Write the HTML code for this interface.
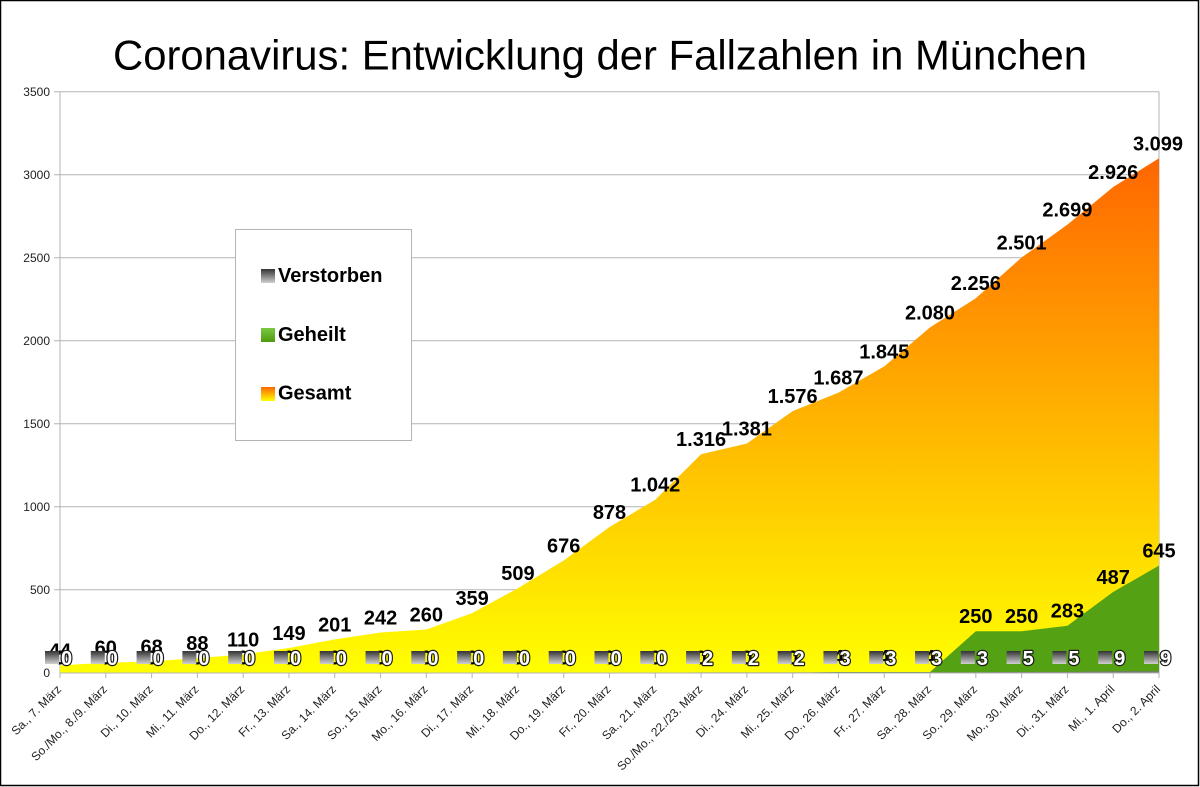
<!DOCTYPE html>
<html><head><meta charset="utf-8"><style>
html,body{margin:0;padding:0;background:#fff;}
svg{display:block;font-family:"Liberation Sans",Arial,sans-serif;}
.yt{font-size:12px;fill:#222;text-anchor:end;}
.xt{font-size:12px;fill:#222;text-anchor:end;}
.gl{font-size:20px;font-weight:bold;fill:#000;text-anchor:middle;}
.vl{font-size:20px;font-weight:bold;fill:#fff;stroke:#1a1a1a;stroke-width:2.4px;paint-order:stroke fill;stroke-linejoin:round;}
.lg{font-size:20px;font-weight:bold;fill:#000;}
</style></head><body>
<svg width="1200" height="787" viewBox="0 0 1200 787" xmlns="http://www.w3.org/2000/svg">
<defs>
<linearGradient id="gOr" gradientUnits="userSpaceOnUse" x1="0" y1="158" x2="0" y2="673">
<stop offset="0" stop-color="#ff6600"/><stop offset="1" stop-color="#ffff00"/></linearGradient>
<linearGradient id="gOrL" x1="0" y1="0" x2="0" y2="1">
<stop offset="0" stop-color="#ff6600"/><stop offset="1" stop-color="#ffff00"/></linearGradient>
<linearGradient id="gGr" x1="0" y1="0" x2="0" y2="1">
<stop offset="0" stop-color="#7ac943"/><stop offset="1" stop-color="#4e9a10"/></linearGradient>
<linearGradient id="gDk" x1="0" y1="0" x2="0" y2="1">
<stop offset="0" stop-color="#333"/><stop offset="1" stop-color="#d0d0d0"/></linearGradient>
</defs>
<rect x="0" y="0" width="1200" height="787" fill="#fff"/>
<!-- frame -->
<rect x="0.5" y="0.5" width="1198" height="785" fill="none" stroke="#000" stroke-width="1.5"/>
<!-- title -->
<text x="113" y="69.5" font-size="42" textLength="974" lengthAdjust="spacingAndGlyphs" fill="#000">Coronavirus: Entwicklung der Fallzahlen in München</text>
<!-- gridlines -->
<g stroke="#b3b3b3" stroke-width="1">
<line x1="54" y1="91.7" x2="1159" y2="91.7"/>
<line x1="54" y1="174.7" x2="1159" y2="174.7"/>
<line x1="54" y1="257.7" x2="1159" y2="257.7"/>
<line x1="54" y1="340.7" x2="1159" y2="340.7"/>
<line x1="54" y1="423.7" x2="1159" y2="423.7"/>
<line x1="54" y1="506.7" x2="1159" y2="506.7"/>
<line x1="54" y1="589.7" x2="1159" y2="589.7"/>
<line x1="60" y1="91.7" x2="60" y2="673"/>
<line x1="1159" y1="91.7" x2="1159" y2="673"/>
</g>
<g class="yt">
<text x="50" y="96">3500</text>
<text x="50" y="179">3000</text>
<text x="50" y="262">2500</text>
<text x="50" y="345">2000</text>
<text x="50" y="428">1500</text>
<text x="50" y="511">1000</text>
<text x="50" y="594">500</text>
<text x="50" y="677">0</text>
</g>
<!-- Gesamt area -->
<polygon fill="url(#gOr)" points="60,672.7 60,665.4 105.79,662.74 151.58,661.41 197.38,658.09 243.17,654.44 288.96,647.97 334.75,639.33 380.54,632.53 426.33,629.54 472.13,613.11 517.92,588.21 563.71,560.48 609.5,526.95 655.29,499.73 701.08,454.24 746.88,443.45 792.67,411.08 838.46,392.66 884.25,366.43 930.04,327.42 975.83,298.2 1021.63,257.53 1067.42,224.67 1113.21,186.98 1159,158.27 1159,672.7"/>
<!-- Geheilt area -->
<polygon fill="#55a114" points="792.67,672.7 838.46,672.04 884.25,672.04 930.04,672.04 975.83,631.2 1021.63,631.2 1067.42,625.72 1113.21,591.86 1159,565.63 1159,672.7"/>
<!-- Verstorben area -->
<polygon fill="#777" points="655.29,672.7 701.08,672.37 746.88,672.37 792.67,672.37 838.46,672.2 884.25,672.2 930.04,672.2 975.83,672.2 1021.63,671.87 1067.42,671.87 1113.21,671.2 1159,671.2 1159,672.7"/>
<!-- x axis -->
<g stroke="#b3b3b3" stroke-width="1">
<line x1="60" y1="673" x2="1159" y2="673"/>
<line x1="60" y1="673" x2="60" y2="678"/><line x1="105.79" y1="673" x2="105.79" y2="678"/><line x1="151.58" y1="673" x2="151.58" y2="678"/><line x1="197.38" y1="673" x2="197.38" y2="678"/><line x1="243.17" y1="673" x2="243.17" y2="678"/><line x1="288.96" y1="673" x2="288.96" y2="678"/><line x1="334.75" y1="673" x2="334.75" y2="678"/><line x1="380.54" y1="673" x2="380.54" y2="678"/><line x1="426.33" y1="673" x2="426.33" y2="678"/><line x1="472.13" y1="673" x2="472.13" y2="678"/><line x1="517.92" y1="673" x2="517.92" y2="678"/><line x1="563.71" y1="673" x2="563.71" y2="678"/><line x1="609.5" y1="673" x2="609.5" y2="678"/><line x1="655.29" y1="673" x2="655.29" y2="678"/><line x1="701.08" y1="673" x2="701.08" y2="678"/><line x1="746.88" y1="673" x2="746.88" y2="678"/><line x1="792.67" y1="673" x2="792.67" y2="678"/><line x1="838.46" y1="673" x2="838.46" y2="678"/><line x1="884.25" y1="673" x2="884.25" y2="678"/><line x1="930.04" y1="673" x2="930.04" y2="678"/><line x1="975.83" y1="673" x2="975.83" y2="678"/><line x1="1021.63" y1="673" x2="1021.63" y2="678"/><line x1="1067.42" y1="673" x2="1067.42" y2="678"/><line x1="1113.21" y1="673" x2="1113.21" y2="678"/><line x1="1159" y1="673" x2="1159" y2="678"/>
</g>
<g class="xt">
<text transform="translate(62,690) rotate(-45)">Sa., 7. März</text>
<text transform="translate(107.79,690) rotate(-45)">So./Mo., 8./9. März</text>
<text transform="translate(153.58,690) rotate(-45)">Di., 10. März</text>
<text transform="translate(199.38,690) rotate(-45)">Mi., 11. März</text>
<text transform="translate(245.17,690) rotate(-45)">Do., 12. März</text>
<text transform="translate(290.96,690) rotate(-45)">Fr., 13. März</text>
<text transform="translate(336.75,690) rotate(-45)">Sa., 14. März</text>
<text transform="translate(382.54,690) rotate(-45)">So., 15. März</text>
<text transform="translate(428.33,690) rotate(-45)">Mo., 16. März</text>
<text transform="translate(474.13,690) rotate(-45)">Di., 17. März</text>
<text transform="translate(519.92,690) rotate(-45)">Mi., 18. März</text>
<text transform="translate(565.71,690) rotate(-45)">Do., 19. März</text>
<text transform="translate(611.5,690) rotate(-45)">Fr., 20. März</text>
<text transform="translate(657.29,690) rotate(-45)">Sa., 21. März</text>
<text transform="translate(703.08,690) rotate(-45)">So./Mo., 22./23. März</text>
<text transform="translate(748.88,690) rotate(-45)">Di., 24. März</text>
<text transform="translate(794.67,690) rotate(-45)">Mi., 25. März</text>
<text transform="translate(840.46,690) rotate(-45)">Do., 26. März</text>
<text transform="translate(886.25,690) rotate(-45)">Fr., 27. März</text>
<text transform="translate(932.04,690) rotate(-45)">Sa., 28. März</text>
<text transform="translate(977.83,690) rotate(-45)">So., 29. März</text>
<text transform="translate(1023.63,690) rotate(-45)">Mo., 30. März</text>
<text transform="translate(1069.42,690) rotate(-45)">Di., 31. März</text>
<text transform="translate(1115.21,690) rotate(-45)">Mi., 1. April</text>
<text transform="translate(1161,690) rotate(-45)">Do., 2. April</text>
</g>
<!-- Gesamt labels -->
<g class="gl">
<text x="60" y="657.4">44</text>
<text x="105.79" y="654.7">60</text>
<text x="151.58" y="653.4">68</text>
<text x="197.38" y="650.1">88</text>
<text x="243.17" y="646.4">110</text>
<text x="288.96" y="640">149</text>
<text x="334.75" y="631.3">201</text>
<text x="380.54" y="624.5">242</text>
<text x="426.33" y="621.5">260</text>
<text x="472.13" y="605.1">359</text>
<text x="517.92" y="580.2">509</text>
<text x="563.71" y="552.5">676</text>
<text x="609.5" y="519">878</text>
<text x="655.29" y="491.7">1.042</text>
<text x="701.08" y="446.2">1.316</text>
<text x="746.88" y="435.5">1.381</text>
<text x="792.67" y="403.1">1.576</text>
<text x="838.46" y="384.7">1.687</text>
<text x="884.25" y="358.4">1.845</text>
<text x="930.04" y="319.4">2.080</text>
<text x="975.83" y="290.2">2.256</text>
<text x="1021.63" y="249.5">2.501</text>
<text x="1067.42" y="216.7">2.699</text>
<text x="1113.21" y="179">2.926</text>
<text x="1158" y="150.3">3.099</text>
</g>
<!-- Geheilt labels -->
<g class="gl">
<text x="60" y="664.7">0</text><text x="105.79" y="664.7">0</text><text x="151.58" y="664.7">0</text><text x="197.38" y="664.7">0</text><text x="243.17" y="664.7">0</text><text x="288.96" y="664.7">0</text><text x="334.75" y="664.7">0</text><text x="380.54" y="664.7">0</text><text x="426.33" y="664.7">0</text><text x="472.13" y="664.7">0</text><text x="517.92" y="664.7">0</text><text x="563.71" y="664.7">0</text><text x="609.5" y="664.7">0</text><text x="655.29" y="664.7">0</text><text x="701.08" y="664.7">0</text><text x="746.88" y="664.7">0</text><text x="792.67" y="664.7">0</text>
<text x="838.46" y="664">4</text><text x="884.25" y="664">4</text><text x="930.04" y="664">4</text>
<text x="975.83" y="623.2">250</text>
<text x="1021.63" y="623.2">250</text>
<text x="1067.42" y="617.7">283</text>
<text x="1113.21" y="583.9">487</text>
<text x="1159" y="557.6">645</text>
</g>
<!-- Verstorben labels with keys -->
<g fill="url(#gDk)">
<rect x="45" y="651" width="14" height="13"/><rect x="90.79" y="651" width="14" height="13"/><rect x="136.58" y="651" width="14" height="13"/><rect x="182.38" y="651" width="14" height="13"/><rect x="228.17" y="651" width="14" height="13"/><rect x="273.96" y="651" width="14" height="13"/><rect x="319.75" y="651" width="14" height="13"/><rect x="365.54" y="651" width="14" height="13"/><rect x="411.33" y="651" width="14" height="13"/><rect x="457.13" y="651" width="14" height="13"/><rect x="502.92" y="651" width="14" height="13"/><rect x="548.71" y="651" width="14" height="13"/><rect x="594.5" y="651" width="14" height="13"/><rect x="640.29" y="651" width="14" height="13"/><rect x="686.08" y="651" width="14" height="13"/><rect x="731.88" y="651" width="14" height="13"/><rect x="777.67" y="651" width="14" height="13"/><rect x="823.46" y="651" width="14" height="13"/><rect x="869.25" y="651" width="14" height="13"/><rect x="915.04" y="651" width="14" height="13"/><rect x="960.83" y="651" width="14" height="13"/><rect x="1006.63" y="651" width="14" height="13"/><rect x="1052.42" y="651" width="14" height="13"/><rect x="1098.21" y="651" width="14" height="13"/><rect x="1144" y="651" width="14" height="13"/>
</g>
<g class="vl">
<text x="61" y="665">0</text><text x="106.79" y="665">0</text><text x="152.58" y="665">0</text><text x="198.38" y="665">0</text><text x="244.17" y="665">0</text><text x="289.96" y="665">0</text><text x="335.75" y="665">0</text><text x="381.54" y="665">0</text><text x="427.33" y="665">0</text><text x="473.13" y="665">0</text><text x="518.92" y="665">0</text><text x="564.71" y="665">0</text><text x="610.5" y="665">0</text><text x="656.29" y="665">0</text>
<text x="702.08" y="665">2</text><text x="747.88" y="665">2</text><text x="793.67" y="665">2</text>
<text x="839.46" y="665">3</text><text x="885.25" y="665">3</text><text x="931.04" y="665">3</text><text x="976.83" y="665">3</text>
<text x="1022.63" y="665">5</text><text x="1068.42" y="665">5</text>
<text x="1114.21" y="665">9</text><text x="1160" y="665">9</text>
</g>
<!-- legend -->
<rect x="235.5" y="229.5" width="176" height="211" fill="#fff" stroke="#b3b3b3" stroke-width="1"/>
<rect x="261" y="269" width="14" height="14" fill="url(#gDk)"/>
<text class="lg" x="278" y="282">Verstorben</text>
<rect x="261" y="328" width="14" height="14" fill="url(#gGr)"/>
<text class="lg" x="278" y="341">Geheilt</text>
<rect x="261" y="387" width="14" height="14" fill="url(#gOrL)"/>
<text class="lg" x="278" y="399.5">Gesamt</text>
</svg>
</body></html>
